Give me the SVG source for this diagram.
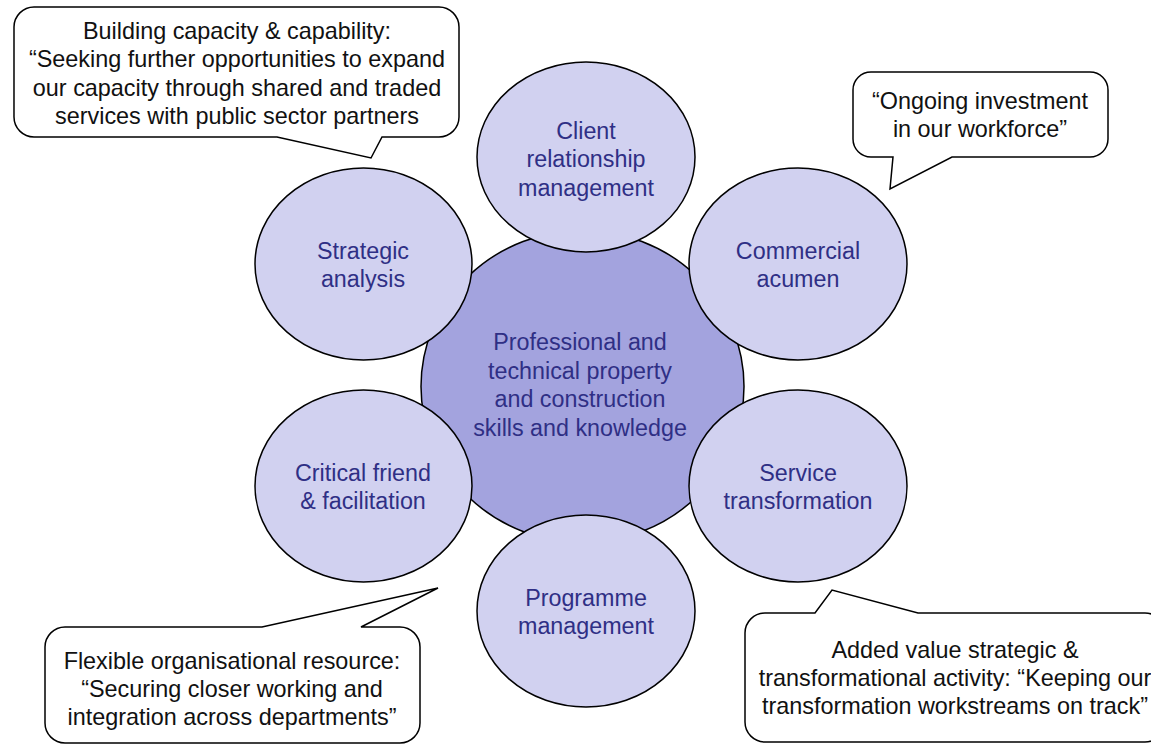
<svg xmlns="http://www.w3.org/2000/svg" width="1151" height="749" viewBox="0 0 1151 749">
  <style>
    .hub { fill: #a3a3de; stroke: #000; stroke-width: 1.5; }
    .sat { fill: #d1d1f0; stroke: #000; stroke-width: 1.5; }
    .lbl { font-family: "Liberation Sans", Arial, sans-serif; font-size: 23.3px; fill: #2f2f85; text-anchor: middle; }
    .bubble { fill: #fff; stroke: #000; stroke-width: 1.5; stroke-linejoin: miter; }
    .quote { font-family: "Liberation Sans", Arial, sans-serif; font-size: 23.4px; fill: #111; text-anchor: middle; }
  </style>
  <rect width="1151" height="749" fill="#fff"/>

  <!-- central hub -->
  <g id="core">
    <ellipse class="hub" cx="582.5" cy="386.5" rx="161.5" ry="156"/>
    <text class="lbl" x="580" y="350">Professional and</text>
    <text class="lbl" x="580" y="379">technical property</text>
    <text class="lbl" x="580" y="407">and construction</text>
    <text class="lbl" x="580" y="436">skills and knowledge</text>
  </g>

  <!-- surrounding capabilities -->
  <g id="client">
    <ellipse class="sat" cx="586" cy="157" rx="109" ry="95"/>
    <text class="lbl" x="586" y="138.5">Client</text>
    <text class="lbl" x="586" y="167">relationship</text>
    <text class="lbl" x="586" y="195.5">management</text>
  </g>
  <g id="strategic">
    <ellipse class="sat" cx="363.5" cy="264" rx="108.5" ry="96"/>
    <text class="lbl" x="363" y="259">Strategic</text>
    <text class="lbl" x="363" y="287">analysis</text>
  </g>
  <g id="commercial">
    <ellipse class="sat" cx="798" cy="264" rx="109" ry="96"/>
    <text class="lbl" x="798" y="259">Commercial</text>
    <text class="lbl" x="798" y="287">acumen</text>
  </g>
  <g id="critical">
    <ellipse class="sat" cx="363.5" cy="486" rx="108.5" ry="96"/>
    <text class="lbl" x="363" y="481">Critical friend</text>
    <text class="lbl" x="363" y="509">&amp; facilitation</text>
  </g>
  <g id="service">
    <ellipse class="sat" cx="798" cy="486" rx="109" ry="96"/>
    <text class="lbl" x="798" y="481">Service</text>
    <text class="lbl" x="798" y="509">transformation</text>
  </g>
  <g id="programme">
    <ellipse class="sat" cx="586" cy="611" rx="109" ry="96"/>
    <text class="lbl" x="586" y="606">Programme</text>
    <text class="lbl" x="586" y="634">management</text>
  </g>

  <!-- speech-bubble callouts with pointer tails -->
  <g id="connectors">
    <g id="callout-capacity">
      <path class="bubble" d="M34,7 H439 A20 20 0 0 1 459,27 V117 A20 20 0 0 1 439,137 H382 L371,158 L277,137 H34 A20 20 0 0 1 14,117 V27 A20 20 0 0 1 34,7 Z"/>
      <text class="quote" x="237" y="39">Building capacity &amp; capability:</text>
      <text class="quote" x="237" y="67">“Seeking further opportunities to expand</text>
      <text class="quote" x="237" y="96">our capacity through shared and traded</text>
      <text class="quote" x="237" y="124">services with public sector partners</text>
    </g>
    <g id="callout-workforce">
      <path class="bubble" d="M871,72 H1090 A18 18 0 0 1 1108,90 V139 A18 18 0 0 1 1090,157 H952 L890,189 L893,157 H871 A18 18 0 0 1 853,139 V90 A18 18 0 0 1 871,72 Z"/>
      <text class="quote" x="980" y="109">“Ongoing investment</text>
      <text class="quote" x="980" y="137">in our workforce”</text>
    </g>
    <g id="callout-flexible">
      <path class="bubble" d="M65,627 H262 L438,588 L361,627 H400 A20 20 0 0 1 420,647 V723 A20 20 0 0 1 400,743 H65 A20 20 0 0 1 45,723 V647 A20 20 0 0 1 65,627 Z"/>
      <text class="quote" x="232" y="669">Flexible organisational resource:</text>
      <text class="quote" x="232" y="697">“Securing closer working and</text>
      <text class="quote" x="232" y="725">integration across departments”</text>
    </g>
    <g id="callout-added-value">
      <path class="bubble" d="M765,613 H815 L832,590 L918,613 H1145 A20 20 0 0 1 1165,633 V722 A20 20 0 0 1 1145,742 H765 A20 20 0 0 1 745,722 V633 A20 20 0 0 1 765,613 Z"/>
      <text class="quote" x="955" y="658">Added value strategic &amp;</text>
      <text class="quote" x="955" y="686">transformational activity: “Keeping our</text>
      <text class="quote" x="955" y="714">transformation workstreams on track”</text>
    </g>
  </g>
</svg>
